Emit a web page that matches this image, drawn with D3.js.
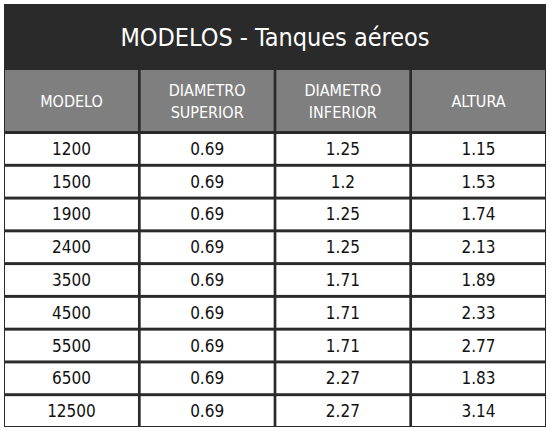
<!DOCTYPE html>
<html><head><meta charset="utf-8">
<script src="https://cdn.jsdelivr.net/npm/d3@7"></script>
<style>
body { margin: 0; background: #fff; }
text { font-family: "Liberation Sans Narrow", "DejaVu Sans Condensed", sans-serif; }
</style></head>
<body>
<svg id="chart" width="550" height="431"></svg>
<script>
var title = "MODELOS - Tanques aéreos";
var headers = [["MODELO"], ["DIAMETRO", "SUPERIOR"], ["DIAMETRO", "INFERIOR"], ["ALTURA"]];
var modelos = ["1200", "1500", "1900", "2400", "3500", "4500", "5500", "6500", "12500"];
var diamSuperior = ["0.69", "0.69", "0.69", "0.69", "0.69", "0.69", "0.69", "0.69", "0.69"];
var diamInferior = ["1.25", "1.2", "1.25", "1.25", "1.71", "1.71", "1.71", "2.27", "2.27"];
var altura = ["1.15", "1.53", "1.74", "2.13", "1.89", "2.33", "2.77", "1.83", "3.14"];

var svg = d3.select('#chart');

var tblLeft = 4, tblRight = 546, tblTop = 4, titleH = 66, headH = 64, tblBottom = 427;

// outer dark frame
svg.append('rect')
    .attr('x', tblLeft).attr('y', tblTop)
    .attr('width', tblRight - tblLeft).attr('height', tblBottom - tblTop)
    .attr('fill', '#2a2a2a');

svg.append('text')
    .attr('x', (tblLeft + tblRight) / 2)
    .attr('y', tblTop + titleH / 2 + 9)
    .attr('text-anchor', 'middle')
    .attr('fill', '#fff')
    .attr('font-size', 25)
    .text(title);

var x = d3.scaleBand()
    .domain(d3.range(headers.length))
    .range([tblLeft + 1, tblRight - 1])
    .paddingInner(0.02);

var rowTop = tblTop + titleH + headH;
var y = d3.scaleBand()
    .domain(d3.range(modelos.length))
    .range([rowTop, tblBottom - 1])
    .paddingInner(0.09);

// header cells
var head = svg.selectAll('.head')
    .data(headers)
    .enter().append('g')
    .classed('head', true);

head.append('rect')
    .attr('x', function (d, i) { return x(i); })
    .attr('y', tblTop + titleH)
    .attr('width', x.bandwidth())
    .attr('height', headH - 3)
    .attr('fill', '#7f7f7f');

head.append('text')
    .attr('text-anchor', 'middle')
    .attr('fill', '#fff')
    .attr('font-size', 16)
    .each(function (d, i) {
        var t = d3.select(this);
        var cy = tblTop + titleH + (headH - 3) / 2;
        d.forEach(function (line, j) {
            t.append('tspan')
                .attr('x', x(i) + x.bandwidth() / 2)
                .attr('y', cy + 6 + (j - (d.length - 1) / 2) * 22)
                .text(line);
        });
    });

// body rows
var rows = modelos.map(function (m, i) {
    return [m, diamSuperior[i], diamInferior[i], altura[i]];
});

var row = svg.selectAll('.row')
    .data(rows)
    .enter().append('g')
    .classed('row', true);

row.each(function (r, ri) {
    var g = d3.select(this);
    r.forEach(function (v, ci) {
        g.append('rect')
            .attr('x', x(ci))
            .attr('y', y(ri))
            .attr('width', x.bandwidth())
            .attr('height', y.bandwidth())
            .attr('fill', '#fff');
        g.append('text')
            .attr('x', x(ci) + x.bandwidth() / 2)
            .attr('y', y(ri) + y.bandwidth() / 2 + 6)
            .attr('text-anchor', 'middle')
            .attr('fill', '#111')
            .attr('font-size', 17)
            .text(v);
    });
});
</script>
</body></html>
